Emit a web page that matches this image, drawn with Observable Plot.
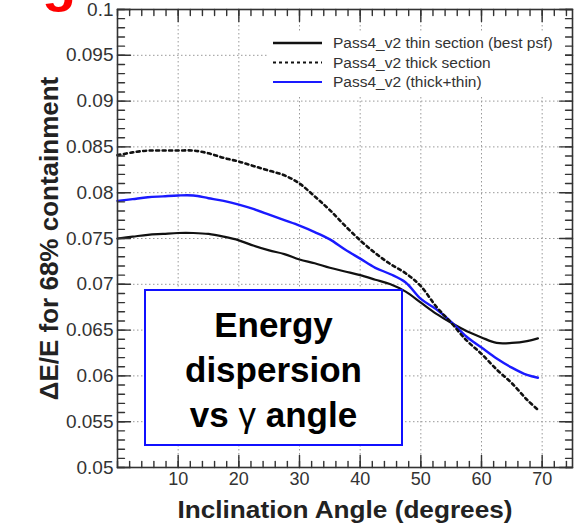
<!DOCTYPE html>
<html><head><meta charset="utf-8">
<script src="https://cdn.jsdelivr.net/npm/d3@7"></script>
<script src="https://cdn.jsdelivr.net/npm/@observablehq/plot@0.6"></script>
<style>
html,body{margin:0;padding:0;background:#fff;}
#wrap{position:relative;width:575px;height:527px;overflow:hidden;font-family:"Liberation Sans",Arial,Helvetica,sans-serif;}
#wrap svg.plot{position:absolute;left:0;top:0;}
#redfrag{position:absolute;left:42px;top:-47px;font:bold 56px "Liberation Sans",Arial,sans-serif;line-height:1;color:#ff0000;}
#legend{position:absolute;left:267px;top:33px;width:298px;height:62px;background:#fff;}
#tbox{position:absolute;left:144px;top:289px;width:259px;height:157px;box-sizing:border-box;border:2px solid #1010ff;background:#fff;text-align:center;font-weight:bold;font-size:35px;line-height:45px;color:#000;padding-top:11px;}
#tbox .g{font-weight:normal;}
</style></head><body>
<div id="wrap"></div>
<script>
// ---- data ----
const angles = [0, 2.5, 5, 7.5, 10, 12.5, 15, 17.5, 20, 22.5, 25, 27.5, 30, 32.5, 35, 37.5, 40, 42.5, 45, 47.5, 50, 52.5, 55, 57.5, 60, 62.5, 65, 67.5, 69.3];
const thinSection = [0.0750, 0.0752, 0.0754, 0.0755, 0.0756, 0.0756, 0.0755, 0.0752, 0.0748, 0.0742, 0.0737, 0.0733, 0.0727, 0.0723, 0.0718, 0.0714, 0.0710, 0.0705, 0.0700, 0.0692, 0.0680, 0.0668, 0.0658, 0.0649, 0.0642, 0.0636, 0.0636, 0.0638, 0.0641];
const thickSection = [0.0841, 0.0844, 0.0846, 0.0846, 0.0846, 0.0846, 0.0843, 0.0838, 0.0834, 0.0829, 0.0824, 0.0819, 0.0810, 0.0796, 0.0781, 0.0764, 0.0748, 0.0734, 0.0722, 0.0712, 0.0698, 0.0676, 0.0658, 0.0639, 0.0624, 0.0607, 0.0592, 0.0574, 0.0563];
const thickPlusThin = [0.0791, 0.0793, 0.0795, 0.0796, 0.0797, 0.0797, 0.0794, 0.0791, 0.0787, 0.0782, 0.0776, 0.0770, 0.0764, 0.0757, 0.0749, 0.0738, 0.0728, 0.0718, 0.0711, 0.0702, 0.0684, 0.0673, 0.0659, 0.0643, 0.0631, 0.0619, 0.0609, 0.0601, 0.0598];
const seriesNames = ["Pass4_v2 thin section (best psf)", "Pass4_v2 thick section", "Pass4_v2 (thick+thin)"];
const xMajorTicks = [10, 20, 30, 40, 50, 60, 70];
const xMinorStep = 2;
const yMajorTicks = [0.05, 0.055, 0.06, 0.065, 0.07, 0.075, 0.08, 0.085, 0.09, 0.095, 0.1];
const yMinorStep = 0.001;
const xTitle = "Inclination Angle (degrees)";
const yTitle = "ΔE/E for 68% containment";
const boxLines = ["Energy", "dispersion", "vs γ angle"];

const xMinorTicks = d3.range(0, 75.01, xMinorStep);
const yMinorTicks = d3.range(0, 51).map(i => +(0.05 + i * yMinorStep).toFixed(3));

const rows = angles.map((a, i) => ({a, thin: thinSection[i], thick: thickSection[i], both: thickPlusThin[i]}));

const tickShape = {draw(ctx, l) { ctx.moveTo(0, 0); ctx.lineTo(0, -l); }};
const tickStyle = {stroke: "#333", strokeWidth: 1.4, anchor: "start", shape: tickShape};
const fmt = d => String(+d.toFixed(3));

const plot = Plot.plot({
  width: 575,
  height: 527,
  marginLeft: 117,
  marginRight: 3,
  marginTop: 9,
  marginBottom: 60,
  style: {fontFamily: "'Liberation Sans', Arial, Helvetica, sans-serif", background: "white", overflow: "visible"},
  x: {domain: [0, 75]},
  y: {domain: [0.05, 0.1]},
  marks: [
    Plot.gridX(xMajorTicks, {stroke: "#999", strokeOpacity: 1, strokeDasharray: "1.5,2.5"}),
    Plot.gridY(yMajorTicks.slice(1, -1), {stroke: "#999", strokeOpacity: 1, strokeDasharray: "1.5,2.5"}),
    Plot.line(rows, {x: "a", y: "thin", stroke: "#111", strokeWidth: 2.2, curve: "catmull-rom"}),
    Plot.line(rows, {x: "a", y: "both", stroke: "#1a1aff", strokeWidth: 2.4, curve: "catmull-rom"}),
    Plot.line(rows, {x: "a", y: "thick", stroke: "#111", strokeWidth: 2.6, strokeDasharray: "3,3.5", curve: "catmull-rom"}),
    Plot.frame({stroke: "#333", strokeWidth: 1.6}),
    // inward ticks, bottom / top
    Plot.vector(xMinorTicks, {x: d => d, frameAnchor: "bottom", length: 6, rotate: 0, ...tickStyle}),
    Plot.vector(xMajorTicks, {x: d => d, frameAnchor: "bottom", length: 12, rotate: 0, ...tickStyle}),
    Plot.vector(xMinorTicks, {x: d => d, frameAnchor: "top", length: 6, rotate: 180, ...tickStyle}),
    Plot.vector(xMajorTicks, {x: d => d, frameAnchor: "top", length: 12, rotate: 180, ...tickStyle}),
    // inward ticks, left / right
    Plot.vector(yMinorTicks, {y: d => d, frameAnchor: "left", length: 7, rotate: 90, ...tickStyle}),
    Plot.vector(yMajorTicks, {y: d => d, frameAnchor: "left", length: 13, rotate: 90, ...tickStyle}),
    Plot.vector(yMinorTicks, {y: d => d, frameAnchor: "right", length: 7, rotate: -90, ...tickStyle}),
    Plot.vector(yMajorTicks, {y: d => d, frameAnchor: "right", length: 13, rotate: -90, ...tickStyle}),
    Plot.axisX(xMajorTicks, {tickSize: 0, tickPadding: 5, fontSize: 18, color: "#333", label: null}),
    Plot.axisY(yMajorTicks, {tickSize: 0, tickPadding: 4, fontSize: 19, color: "#333", label: null, tickFormat: fmt}),
    Plot.text([xTitle], {text: d => d, frameAnchor: "bottom", dy: 43, fontSize: 24, fontWeight: "bold", fill: "#222", lineAnchor: "middle"}),
    Plot.text([yTitle], {text: d => d, frameAnchor: "left", dx: -68, rotate: -90, fontSize: 26, fontWeight: "bold", fill: "#222", lineAnchor: "middle", textAnchor: "middle"})
  ]
});
plot.classList.add("plot");

d3.select(plot).selectAll("text").each(function() {
  if (this.textContent === xTitle) d3.select(this).attr("textLength", 335).attr("lengthAdjust", "spacingAndGlyphs");
  if (this.textContent === yTitle) d3.select(this).attr("text-anchor", "middle");
});

const wrap = document.getElementById("wrap");
wrap.appendChild(plot);

// red fragment of slide title at top-left
const red = document.createElement("div");
red.id = "redfrag";
red.textContent = "g";
wrap.appendChild(red);

// legend
const legend = document.createElement("div");
legend.id = "legend";
wrap.appendChild(legend);
const lsvg = d3.select(legend).append("svg").attr("width", 298).attr("height", 62);
const legendStyles = [
  {stroke: "#111", width: 2.6, dash: null},
  {stroke: "#111", width: 2, dash: "3,3"},
  {stroke: "#1a1aff", width: 2.2, dash: null}
];
seriesNames.forEach((name, i) => {
  const y = 10 + i * 19.5;
  lsvg.append("line").attr("x1", 6).attr("x2", 55).attr("y1", y).attr("y2", y)
    .attr("stroke", legendStyles[i].stroke).attr("stroke-width", legendStyles[i].width)
    .attr("stroke-dasharray", legendStyles[i].dash);
  lsvg.append("text").attr("x", 66).attr("y", y).attr("dy", "0.35em")
    .attr("font-family", "'Liberation Sans', Arial, sans-serif").attr("font-size", 15.5).attr("fill", "#333")
    .text(name);
});

// annotation box
const tbox = document.createElement("div");
tbox.id = "tbox";
boxLines.forEach(line => {
  const div = document.createElement("div");
  if (line.includes("γ")) {
    const parts = line.split("γ");
    div.append(parts[0]);
    const g = document.createElement("span");
    g.className = "g";
    g.textContent = "γ";
    div.append(g);
    div.append(parts[1]);
  } else {
    div.textContent = line;
  }
  tbox.appendChild(div);
});
wrap.appendChild(tbox);
</script>
</body></html>
